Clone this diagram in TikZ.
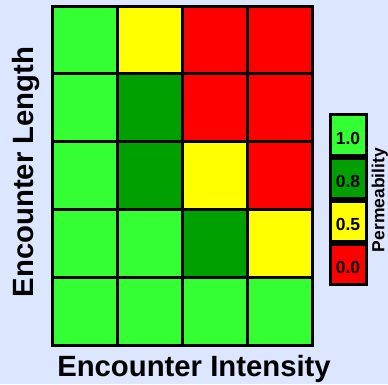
\documentclass[tikz,border=0pt]{standalone}
\usepackage{fontspec}
\setmainfont{Liberation Sans}
\usepackage{xcolor}
\usetikzlibrary{positioning}
\definecolor{bg-blue}{HTML}{DDE6FF}
\definecolor{perm-L}{HTML}{33FF33}
\definecolor{perm-D}{HTML}{00A000}
\definecolor{perm-Y}{HTML}{FFFF00}
\definecolor{perm-R}{HTML}{FF0000}
\tikzset{
    grid-cell/.style = {draw=black, line width=3pt, rectangle, minimum width=65pt, minimum height=67.8pt, inner sep=0pt},
    key-cell/.style = {draw=black, line width=3pt, rectangle, minimum width=36pt, minimum height=40.25pt, inner sep=0pt, text height=18pt, text depth=0pt, font=\bfseries\fontsize{17.5}{18}\selectfont},
    axis-title/.style = {inner sep=0pt, font=\bfseries\fontsize{29.3}{32}\selectfont},
}

\begin{document}
\begin{tikzpicture}[x=1pt, y=-1pt]
\fill[bg-blue] (0,0) rectangle (388,384);
\useasboundingbox (0,0) rectangle (388,384);
% permeability grid, top row first
\foreach \cols [count=\r] in {{L,Y,R,R},{L,D,R,R},{L,D,Y,R},{L,L,D,Y},{L,L,L,L}}
    \foreach \col [count=\c] in \cols
        \node[grid-cell, fill=perm-\col] (cell-\r-\c) at (52+65*\c-32.5, 6+67.8*\r-33.9) {};
% legend
\node[key-cell, fill=perm-L] (key-1) at (348,135.1) {1.0};
\node[key-cell, fill=perm-D, below=0pt of key-1] (key-2) {0.8};
\node[key-cell, fill=perm-Y, below=0pt of key-2] (key-3) {0.5};
\node[key-cell, fill=perm-R, below=0pt of key-3] (key-4) {0.0};
\node[rotate=90, anchor=north, inner sep=0pt, font=\bfseries\fontsize{17.5}{18}\selectfont] (key-title) at ([xshift=4pt]key-2.south east) {Permeability};
% axis titles
\node[axis-title, rotate=90] (length-title) at (26,172) {Encounter Length};
\node[axis-title] (intensity-title) at (194,369) {Encounter Intensity};
\end{tikzpicture}
\end{document}
